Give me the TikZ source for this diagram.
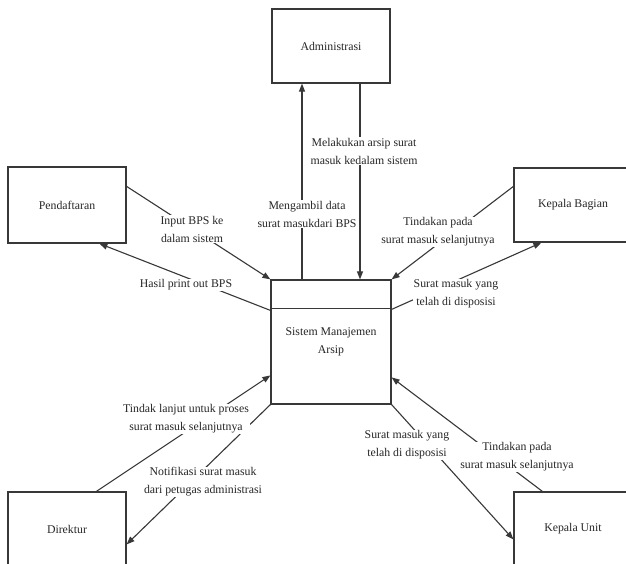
\documentclass[tikz,border=0pt]{standalone}
\usepackage{fontspec}
\setmainfont{Liberation Serif}
\usetikzlibrary{arrows.meta,calc}
\begin{document}
\begin{tikzpicture}[x=1pt,y=-1pt,
  box/.style={draw=black!78,line width=1.2pt,minimum width=118pt,minimum height=74pt,inner sep=0pt,font=\fontsize{11.8}{18}\selectfont,text=black!85},
  conn/.style={draw=black!78,line width=1.1pt},
  arr/.style={conn,-{Triangle[length=8pt,width=6pt]}},
  lbl/.style={fill=white,inner sep=1pt,align=center,font=\fontsize{11.8}{18}\selectfont,text=black!85}]
\useasboundingbox (0,0) rectangle (626,564);
\begin{scope}
\clip (0,0) rectangle (626,564);
\fill[white] (0,0) rectangle (626,564);
% entities
\node[box] (adm) at (331,46) {Administrasi};
\node[box, minimum height=76pt] (pend) at (67,205) {Pendaftaran};
\node[box] (kb) at (573,205) {Kepala Bagian};
\node[box, minimum width=120pt, minimum height=124pt, align=center] (sys) at (331,342) {Sistem Manajemen\\Arsip};
\draw[draw=black!78,line width=1.2pt] ($(sys.north west)+(0,29)$) -- ($(sys.north east)+(0,29)$);
\node[box] (dir) at (67,529) {Direktur};
\node[box] (ku) at (573,529) {Kepala Unit};
% connectors
\draw[arr] ($(sys.north)+(-29,0)$) -- ($(adm.south)+(-29,0)$);
\draw[arr] ($(adm.south)+(29,0)$) -- ($(sys.north)+(29,0)$);
\draw[arr] ($(pend.north east)+(0,20)$) -- (sys.north west);
\draw[arr] ($(sys.north west)+(0,31)$) -- ($(pend.south west)+(92,0)$);
\draw[arr] ($(kb.north west)+(0,19)$) -- (sys.north east);
\draw[arr] ($(sys.north east)+(0,30)$) -- ($(kb.south west)+(28,0)$);
\draw[arr] ($(dir.north west)+(89,0)$) -- ($(sys.north west)+(0,96)$);
\draw[arr] (sys.south west) -- ($(dir.north east)+(0,53)$);
\draw[arr] (sys.south east) -- ($(ku.north west)+(0,48)$);
\draw[arr] ($(ku.north west)+(29,0)$) -- ($(sys.north east)+(0,98)$);
% labels
\node[lbl] (l1) at (307,214) {Mengambil data\\surat masukdari BPS};
\node[lbl] (l2) at (364,151) {Melakukan arsip surat\\masuk kedalam sistem};
\node[lbl] (l3) at (192,229) {Input BPS ke\\dalam sistem};
\node[lbl] (l4) at (186,285) {Hasil print out BPS};
\node[lbl] (l5) at (438,232) {Tindakan pada\\surat masuk selanjutnya};
\node[lbl] (l6) at (456,294) {Surat masuk yang\\telah di disposisi};
\node[lbl] (l7) at (186,419) {Tindak lanjut untuk proses\\surat masuk selanjutnya};
\node[lbl] (l8) at (203,482) {Notifikasi surat masuk\\dari petugas administrasi};
\node[lbl] (l9) at (407,445) {Surat masuk yang\\telah di disposisi};
\node[lbl] (l10) at (517,457) {Tindakan pada\\surat masuk selanjutnya};
\end{scope}
\end{tikzpicture}
\end{document}
